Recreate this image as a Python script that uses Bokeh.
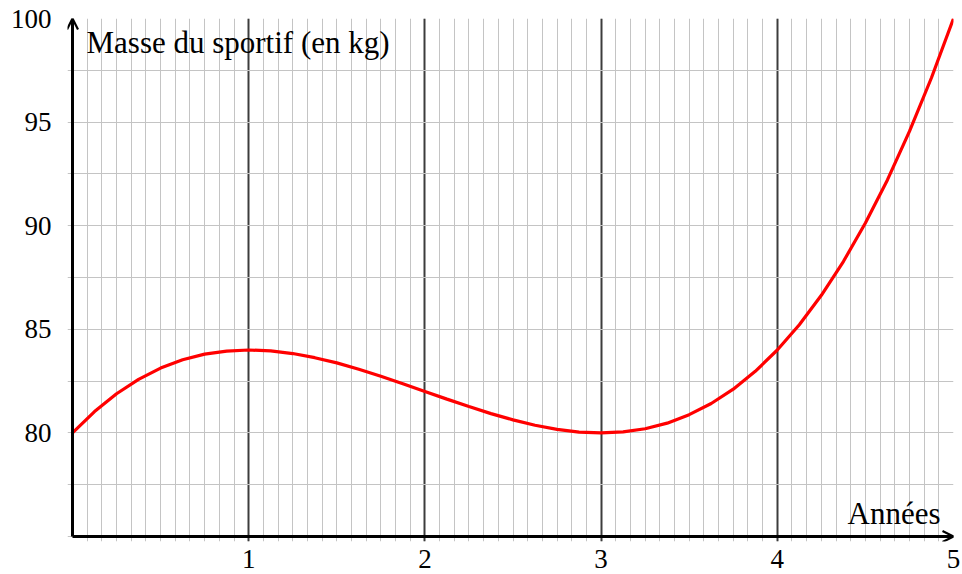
from bokeh.plotting import figure
from bokeh.models import FixedTicker, Label, Arrow, OpenHead
from bokeh.embed import file_html
from bokeh.resources import INLINE

# Data
annees = [0, 0.125, 0.25, 0.375, 0.5, 0.625, 0.75, 0.875,
          1, 1.125, 1.25, 1.375, 1.5, 1.625, 1.75, 1.875,
          2, 2.125, 2.25, 2.375, 2.5, 2.625, 2.75, 2.875,
          3, 3.125, 3.25, 3.375, 3.5, 3.625, 3.75, 3.875,
          4, 4.125, 4.25, 4.375, 4.5, 4.625, 4.75, 4.875, 5]
masse = [80.0, 81.03, 81.89, 82.58, 83.13, 83.53, 83.80, 83.95,
         84.0, 83.96, 83.83, 83.63, 83.38, 83.07, 82.73, 82.37,
         82.0, 81.63, 81.27, 80.93, 80.63, 80.37, 80.17, 80.04,
         80.0, 80.05, 80.20, 80.47, 80.88, 81.42, 82.11, 82.97,
         84.0, 85.22, 86.64, 88.27, 90.13, 92.21, 94.55, 97.14, 100.0]

x_ticks = [1, 2, 3, 4, 5]
y_ticks = [80, 85, 90, 95, 100]
y_grid_vals = [75, 77.5, 80, 82.5, 85, 87.5, 90, 92.5, 95, 97.5, 100]
x_minor = [k / 12 for k in range(1, 60)]
x_lab = "Années"
y_lab = "Masse du sportif (en kg)"

FONT = "Liberation Serif"
TICK_FS = "27px"
LAB_FS = "31px"

# small margin left of / below the axes so that grid lines poke out as ticks
x0, x1 = 0, 5
y0, y1 = 75, 100
pad_x = 5 / 176.2
pad_y = 5 / 20.72

p = figure(width=962, height=574, x_range=(x0 - pad_x, x1), y_range=(y0 - pad_y, y1),
           output_backend="svg", toolbar_location=None,
           min_border_left=67, min_border_right=9, min_border_top=18,
           min_border_bottom=33)
p.outline_line_color = None
p.background_fill_color = "white"

# grids
p.xgrid.ticker = FixedTicker(ticks=x_ticks, minor_ticks=x_minor)
p.xgrid.grid_line_color = "#3c3c3c"
p.xgrid.grid_line_width = 2
p.xgrid.minor_grid_line_color = "#c4c4c4"
p.xgrid.minor_grid_line_width = 1
p.ygrid.ticker = FixedTicker(ticks=y_grid_vals)
p.ygrid.grid_line_color = "#c4c4c4"
p.ygrid.grid_line_width = 1

# axes (labels only; lines drawn as arrows)
p.xaxis.ticker = FixedTicker(ticks=x_ticks)
p.yaxis.ticker = FixedTicker(ticks=y_ticks)
for ax in (p.xaxis[0], p.yaxis[0]):
    ax.axis_line_color = None
    ax.major_tick_in = 0
    ax.major_tick_out = 0
    ax.minor_tick_in = 0
    ax.minor_tick_out = 0
    ax.major_tick_line_color = None
    ax.minor_tick_line_color = None
    ax.major_label_text_font = FONT
    ax.major_label_text_font_size = TICK_FS
    ax.major_label_text_color = "black"
p.xaxis.major_label_standoff = 8
p.yaxis.major_label_standoff = 16

# curve
p.line(annees, masse, line_color="#ff0000", line_width=3.2)

# axis arrows
p.add_layout(Arrow(end=OpenHead(size=11, line_width=2.2, line_color="black"),
                   x_start=x0, y_start=y0, x_end=x0, y_end=y1,
                   line_width=3, line_color="black"))
p.add_layout(Arrow(end=OpenHead(size=11, line_width=2.2, line_color="black"),
                   x_start=x0, y_start=y0, x_end=x1, y_end=y0,
                   line_width=3, line_color="black"))

p.add_layout(Label(x=x0, y=y1, text=y_lab,
                   text_font=FONT, text_font_size=LAB_FS, text_color="black",
                   text_align="left", text_baseline="alphabetic",
                   x_offset=14, y_offset=-24))
p.add_layout(Label(x=x1, y=y0, text=x_lab,
                   text_font=FONT, text_font_size=LAB_FS, text_color="black",
                   text_align="right", text_baseline="alphabetic",
                   x_offset=-13, y_offset=23))

open("out.html", "w").write(file_html(p, INLINE))
